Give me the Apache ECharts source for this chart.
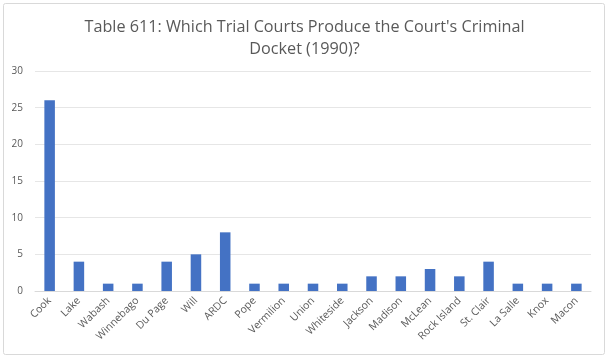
<!DOCTYPE html>
<html><head><meta charset="utf-8">
<script src="https://cdn.jsdelivr.net/npm/echarts@6/dist/echarts.min.js"></script>
<style>html,body{margin:0;padding:0;background:#fff;}#c{width:609px;height:360px;}</style>
</head><body><div id="c"></div>
<script>
const categories = ["Cook","Lake","Wabash","Winnebago","Du Page","Will","ARDC","Pope","Vermilion","Union","Whiteside","Jackson","Madison","McLean","Rock Island","St. Clair","La Salle","Knox","Macon"];
const values = [26,4,1,1,4,5,8,1,1,1,1,2,2,3,2,4,1,1,1];
const yTicks = [0,5,10,15,20,25,30];
const chart = echarts.init(document.getElementById('c'), null, {renderer:'canvas'});
chart.setOption({
  animation:false,
  backgroundColor:'#fff',
  graphic:[{type:'rect',shape:{x:3.5,y:3.5,width:601,height:351,r:2},style:{fill:'none',stroke:'#d9d9d9',lineWidth:1}}],
  title:{text:"Table 611: Which Trial Courts Produce the Court's Criminal\nDocket (1990)?",left:'center',top:11,
    textStyle:{fontFamily:'Open Sans',fontWeight:'normal',fontSize:16.2,color:'#595959',lineHeight:22}},
  grid:{left:35,right:18,top:71,bottom:69},
  xAxis:{type:'category',data:categories,
    axisLine:{lineStyle:{color:'#d9d9d9'}},axisTick:{show:false},
    axisLabel:{rotate:45,interval:0,color:'#595959',fontSize:10.5,fontFamily:'Open Sans',margin:8}},
  yAxis:{type:'value',min:yTicks[0],max:yTicks[yTicks.length-1],interval:5,
    axisLine:{show:false},axisTick:{show:false},
    splitLine:{lineStyle:{color:'#e6e6e6'}},
    axisLabel:{color:'#595959',fontSize:10,fontFamily:'Open Sans',margin:12}},
  series:[{type:'bar',data:values,barWidth:'36%',itemStyle:{color:'#4472c4'}}]
});
</script></body></html>
